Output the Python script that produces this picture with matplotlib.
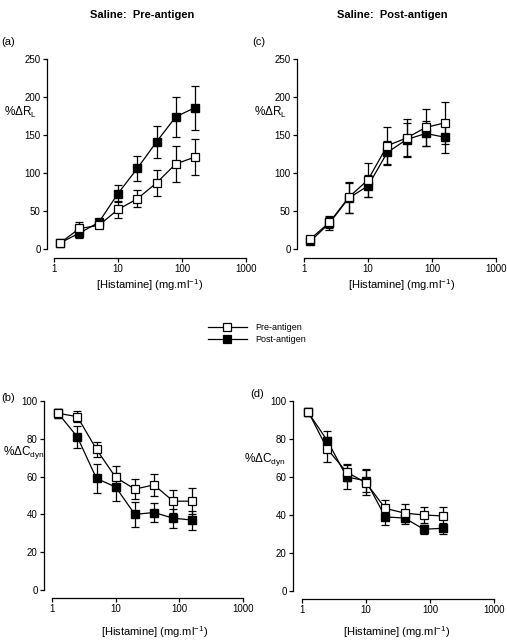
import matplotlib
matplotlib.use('Agg')
import matplotlib.pyplot as plt
import numpy as np

plt.rcParams['font.family'] = ['Liberation Sans', 'DejaVu Sans']
plt.rcParams['mathtext.fontset'] = 'custom'
plt.rcParams['mathtext.rm'] = 'Liberation Sans'
plt.rcParams['mathtext.it'] = 'Liberation Sans'

# 组胺浓度
dose = [1.25, 2.5, 5, 10, 20, 40, 80, 160]

# (a) 生理盐水 抗原前 %ΔRL
a_pre = [8, 27, 31, 52, 66, 87, 112, 121]
a_pre_err = [3, 8, 4, 11, 11, 17, 24, 24]
a_post = [8, 21, 35, 73, 106, 141, 174, 186]
a_post_err = [3, 6, 4, 11, 16, 21, 26, 29]

# (c) 生理盐水 抗原后 %ΔRL
c_pre = [13, 35, 68, 91, 136, 146, 160, 166]
c_pre_err = [3, 7, 20, 22, 25, 25, 24, 28]
c_post = [10, 34, 67, 83, 127, 144, 152, 147]
c_post_err = [3, 9, 20, 14, 15, 22, 17, 21]

# (b) %ΔCdyn
b_pre = [93.5, 91.7, 74.4, 59.6, 53.4, 55.6, 47, 47]
b_pre_err = [2.5, 3, 4, 6, 5.5, 6, 6, 7]
b_post = [93.5, 81, 59, 54.5, 40, 41, 38, 37]
b_post_err = [2.5, 6, 7.5, 7.5, 6.5, 5, 5, 5]

# (d) %ΔCdyn
d_pre = [94.4, 74.6, 62.5, 57, 43.5, 41, 40, 39.5]
d_pre_err = [2, 6.5, 4.5, 6.5, 4.5, 4.6, 4.4, 4.5]
d_post = [94, 79, 60, 58, 39, 38.4, 32.5, 33]
d_post_err = [2, 5, 6.5, 6, 4.3, 3, 2.5, 3]

W, H = 507, 640
fig = plt.figure(figsize=(W / 100, H / 100), dpi=100)


def px_axes(x0, x1, y0, y1):
    return fig.add_axes([x0 / W, 1 - y1 / H, (x1 - x0) / W, (y1 - y0) / H])


def panel(ax, pre, pre_err, post, post_err, ymax, ystep, left_off, bottom_off):
    ax.errorbar(dose, post, yerr=post_err, color='black', marker='s', ms=5.5,
                mfc='black', mec='black', lw=0.9, elinewidth=0.9, capsize=2.6,
                capthick=0.9, zorder=2)
    ax.errorbar(dose, pre, yerr=pre_err, color='black', marker='s', ms=5.5,
                mfc='white', mec='black', mew=0.9, lw=0.9, elinewidth=0.9,
                capsize=2.6, capthick=0.9, zorder=3)
    ax.set_xscale('log')
    ax.set_xlim(1, 1000)
    ax.set_ylim(0, ymax)
    ax.set_xticks([1, 10, 100, 1000])
    ax.set_xticklabels(['1', '10', '100', '1000'])
    ax.xaxis.set_minor_locator(matplotlib.ticker.NullLocator())
    ax.set_yticks(np.arange(0, ymax + 1, ystep))
    ax.spines['top'].set_visible(False)
    ax.spines['right'].set_visible(False)
    ax.spines['left'].set_position(('outward', left_off * 0.72))
    ax.spines['bottom'].set_position(('outward', bottom_off * 0.72))
    for s in ['left', 'bottom']:
        ax.spines[s].set_linewidth(0.9)
    ax.tick_params(labelsize=7, length=3, width=0.9, pad=1.5)
    ax.patch.set_visible(False)
    for sp in ax.spines.values():
        sp.set_clip_on(False)


ax_a = px_axes(54, 246, 59, 249)
panel(ax_a, a_pre, a_pre_err, a_post, a_post_err, 250, 50, 7, 9)
ax_c = px_axes(304, 496, 59, 249)
panel(ax_c, c_pre, c_pre_err, c_post, c_post_err, 250, 50, 7, 9)
ax_b = px_axes(52, 243, 401, 590)
panel(ax_b, b_pre, b_pre_err, b_post, b_post_err, 100, 20, 8, 8)
ax_d = px_axes(302, 494, 401, 591)
panel(ax_d, d_pre, d_pre_err, d_post, d_post_err, 100, 20, 9, 8)


def ftext(x, y, s, **kw):
    fig.text(x / W, 1 - y / H, s, **kw)


ftext(142, 15, 'Saline:  Pre-antigen', ha='center', va='center', fontsize=8, fontweight='bold')
ftext(392, 15, 'Saline:  Post-antigen', ha='center', va='center', fontsize=8, fontweight='bold')
ftext(1, 42, '(a)', ha='left', va='center', fontsize=8)
ftext(252, 42, '(c)', ha='left', va='center', fontsize=8)
ftext(1, 398, '(b)', ha='left', va='center', fontsize=8)
ftext(250, 394, '(d)', ha='left', va='center', fontsize=8)

xl = '[Histamine] (mg.ml$^{-1}$)'
ftext(150, 285, xl, ha='center', va='center', fontsize=8)
ftext(402, 285, xl, ha='center', va='center', fontsize=8)
ftext(155, 632, xl, ha='center', va='center', fontsize=8)
ftext(397, 632, xl, ha='center', va='center', fontsize=8)

ftext(4, 112, '%$\\Delta$R$_L$', ha='left', va='center', fontsize=8.5)
ftext(254, 112, '%$\\Delta$R$_L$', ha='left', va='center', fontsize=8.5)
ftext(3, 452, '%$\\Delta$C$_{dyn}$', ha='left', va='center', fontsize=8.5)
ftext(244, 459, '%$\\Delta$C$_{dyn}$', ha='left', va='center', fontsize=8.5)

# 图例
lx0, lx1 = 208 / W, 247 / W
for yy, fc, lab in [(327, 'white', 'Pre-antigen'), (339, 'black', 'Post-antigen')]:
    yf = 1 - yy / H
    fig.add_artist(matplotlib.lines.Line2D([lx0, lx1], [yf, yf], color='black', lw=0.9))
    fig.add_artist(matplotlib.lines.Line2D([(lx0 + lx1) / 2], [yf], marker='s', ms=5.5,
                                           mfc=fc, mec='black', mew=0.9, color='black'))
    ftext(255, yy, lab, ha='left', va='center', fontsize=6.5)

fig.savefig('out.png', dpi=100)
